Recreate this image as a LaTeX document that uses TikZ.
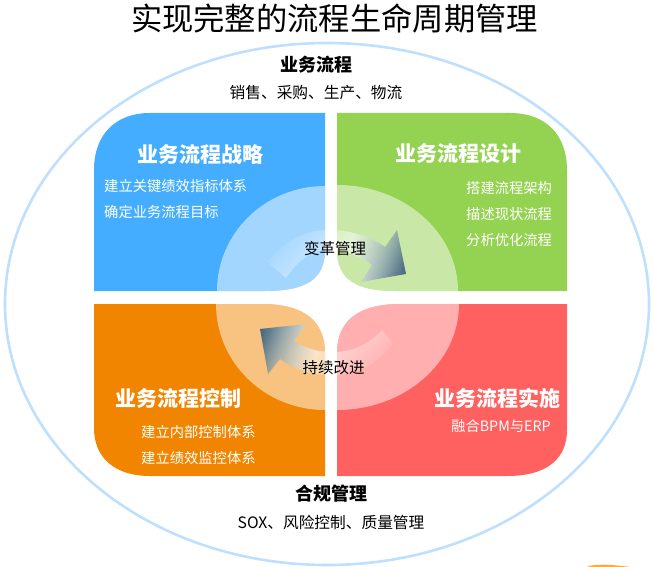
\documentclass[tikz,border=0pt]{standalone}
\usepackage{fontspec}
\setmainfont{Noto Sans CJK SC}
\usetikzlibrary{fadings}

\definecolor{ringblue}{HTML}{BFDFFF}
\definecolor{stratblue}{HTML}{45ADFF}
\definecolor{designgreen}{HTML}{94D251}
\definecolor{ctrlorange}{HTML}{F18500}
\definecolor{implred}{HTML}{FF6060}
\definecolor{tipslate}{HTML}{1F4562}
\definecolor{midslate}{HTML}{8FA6AE}

\pgfdeclarehorizontalshading{swooshr}{100bp}{color(0bp)=(white); color(54bp)=(white); color(70bp)=(midslate); color(85bp)=(tipslate); color(100bp)=(tipslate)}
\pgfdeclarehorizontalshading{swooshl}{100bp}{color(0bp)=(tipslate); color(15bp)=(tipslate); color(30bp)=(midslate); color(46bp)=(white); color(100bp)=(white)}
\tikzfading[name=swoosh right, left color=transparent!97, middle color=transparent!85, right color=transparent!0]
\tikzfading[name=swoosh left, left color=transparent!0, middle color=transparent!85, right color=transparent!97]

\tikzset{
    panel/.style={draw=none},
    lens/.style={fill=white,fill opacity=0.5,draw=none},
    head/.style={font=\bfseries\fontsize{21}{21}\selectfont,text=white,inner sep=0pt},
    item/.style={font=\fontsize{14.3}{14.3}\selectfont,text=white,inner sep=0pt,anchor=west},
    zone/.style={font=\bfseries\fontsize{18}{18}\selectfont,inner sep=0pt},
    zonetext/.style={font=\fontsize{15.7}{15.7}\selectfont,inner sep=0pt},
    hub/.style={font=\fontsize{15.5}{15.5}\selectfont,inner sep=0pt}
}

\begin{document}
\begin{tikzpicture}[x=1pt,y=-1pt]
\useasboundingbox (0,0) rectangle (654,567);
\clip (0,0) rectangle (654,567);

\draw[ringblue,line width=2.6pt] (327,304) ellipse (322 and 261);
\fill[ctrlorange!70] (587,567) .. controls (595,563) and (615,565) .. (630,567) -- cycle;

% the four panels
\fill[panel,stratblue] (325,113) -- (150,113) .. controls (115,113) and (94,135) .. (94,170) -- (94,291) -- (265,291) .. controls (305,291) and (325,280) .. (325,250) -- cycle;
\fill[panel,designgreen] (337,113) -- (510,113) .. controls (546,113) and (567,135) .. (567,170) -- (567,291) -- (395,291) .. controls (357,291) and (337,280) .. (337,250) -- cycle;
\fill[panel,ctrlorange] (325,476) -- (150,476) .. controls (115,476) and (94,458) .. (94,428) -- (94,304) -- (262,304) .. controls (305,304) and (325,322) .. (325,353) -- cycle;
\fill[panel,implred] (337,476) -- (507,476) .. controls (548,476) and (567,458) .. (567,430) -- (567,304) -- (400,304) .. controls (357,304) and (337,322) .. (337,353) -- cycle;

% lighter middle
\fill[lens] (217,291) arc (180:270:108 and 105) -- (325,250) .. controls (325,280) and (305,291) .. (265,291) -- cycle;
\fill[lens] (458,291) arc (0:-90:121 and 106) -- (337,250) .. controls (337,280) and (357,291) .. (395,291) -- cycle;
\fill[lens] (216,304) arc (180:90:109 and 106) -- (325,353) .. controls (325,322) and (305,304) .. (262,304) -- cycle;
\fill[lens] (459,304) arc (0:90:122 and 106) -- (337,353) .. controls (337,322) and (357,304) .. (400,304) -- cycle;

% the two arrows
\shade[shading=swooshr,shading angle=-15,path fading=swoosh right,fading angle=-20]
  (267,262) .. controls (285,240) and (305,230) .. (328,230) .. controls (350,230) and (370,236) .. (385,247)
  -- (397,230) -- (406,274) -- (361,282) -- (372,265) .. controls (360,256) and (345,250) .. (328,250)
  .. controls (310,250) and (297,262) .. (286,278) -- cycle;
\shade[shading=swooshl,shading angle=-15,path fading=swoosh left,fading angle=-20]
  (393,343) .. controls (378,365) and (357,375) .. (333,375) .. controls (312,375) and (295,370) .. (280,359)
  -- (268,374) -- (260,329) -- (306,324) -- (294,341) .. controls (306,349) and (320,352) .. (333,352)
  .. controls (352,352) and (368,345) .. (382,330) -- cycle;

\node[font=\fontsize{31.3}{31.3}\selectfont,inner sep=0pt] (title) at (334.5,19) {实现完整的流程生命周期管理};

\node[zone] (process) at (316,65) {业务流程};
\node[zonetext] (processitems) at (316,93) {销售、采购、生产、物流};
\node[zone] (comply) at (331,494) {合规管理};
\node[zonetext] (complyitems) at (331,522) {SOX、风险控制、质量管理};

\node[head] (strategy) at (200,154) {业务流程战略};
\node[item] (strategya) at (104,186) {建立关键绩效指标体系};
\node[item] (strategyb) at (104,212) {确定业务流程目标};

\node[head] (design) at (458,154) {业务流程设计};
\node[item] (designa) at (466,188) {搭建流程架构};
\node[item] (designb) at (466,214) {描述现状流程};
\node[item] (designc) at (466,240) {分析优化流程};

\node[head] (control) at (178,398.5) {业务流程控制};
\node[item] (controla) at (141,432) {建立内部控制体系};
\node[item] (controlb) at (141,458) {建立绩效监控体系};

\node[head] (deploy) at (497,398) {业务流程实施};
\node[item,anchor=center] (deploya) at (501,426) {融合BPM与ERP};

\node[hub] (change) at (335,249) {变革管理};
\node[hub] (improve) at (333.5,368) {持续改进};
\end{tikzpicture}
\end{document}
